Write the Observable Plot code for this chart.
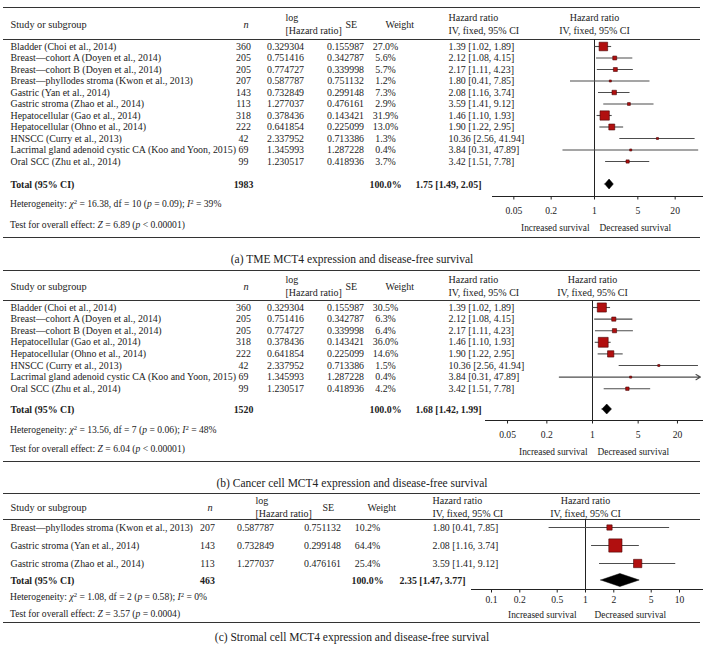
<!DOCTYPE html>
<html><head><meta charset="utf-8">
<script src="https://cdn.jsdelivr.net/npm/d3@7"></script>
<script src="https://cdn.jsdelivr.net/npm/@observablehq/plot@0.6"></script>
<style>
body{margin:0;background:#fff;}
#page{position:relative;width:704px;height:656px;font-family:"Liberation Serif",serif;color:#222;overflow:hidden;background:#fff}
.panel{position:absolute;left:0}
.note{position:absolute;left:10px;font-size:9.6px;white-space:nowrap;transform:translateY(-50%);line-height:1}
.note sup{font-size:0.7em;vertical-align:0.45em;line-height:0}
.cap{position:absolute;left:0;width:704px;text-align:center;font-size:11.5px;transform:translateY(-50%);line-height:1}
</style></head><body><div id="page"></div>
<script>
// ---------- Panel (a): TME MCT4 expression ----------
const studiesA = ["Bladder (Choi et al., 2014)", "Breast\u2014cohort A (Doyen et al., 2014)", "Breast\u2014cohort B (Doyen et al., 2014)", "Breast\u2014phyllodes stroma (Kwon et al., 2013)", "Gastric (Yan et al., 2014)", "Gastric stroma (Zhao et al., 2014)", "Hepatocellular (Gao et al., 2014)", "Hepatocellular (Ohno et al., 2014)", "HNSCC (Curry et al., 2013)", "Lacrimal gland adenoid cystic CA (Koo and Yoon, 2015)", "Oral SCC (Zhu et al., 2014)"];
const nA = [360, 205, 205, 207, 143, 113, 318, 222, 42, 69, 99];
const logHRA = [0.329304, 0.751416, 0.774727, 0.587787, 0.732849, 1.277037, 0.378436, 0.641854, 2.337952, 1.345993, 1.230517];
const seA = [0.155987, 0.342787, 0.339998, 0.751132, 0.299148, 0.476161, 0.143421, 0.225099, 0.713386, 1.287228, 0.418936];
const weightA = [27.0, 5.6, 5.7, 1.2, 7.3, 2.9, 31.9, 13.0, 1.3, 0.4, 3.7];
const hrA = [1.39, 2.12, 2.17, 1.80, 2.08, 3.59, 1.46, 1.90, 10.36, 3.84, 3.42];
const lowA = [1.02, 1.08, 1.11, 0.41, 1.16, 1.41, 1.10, 1.22, 2.56, 0.31, 1.51];
const highA = [1.89, 4.15, 4.23, 7.85, 3.74, 9.12, 1.93, 2.95, 41.94, 47.89, 7.78];
const totalA = {n: 1983, weight: 100.0, hr: 1.75, lo: 1.49, hi: 2.05};
const hetA = {chi2: "16.38", df: 10, p: "= 0.09", i2: 39};
const effectA = {z: "6.89", p: "< 0.00001"};
const ticksA = [0.05, 0.2, 1, 5, 20];
const captionA = "(a)  TME MCT4 expression and disease-free survival";

// ---------- Panel (b): Cancer cell MCT4 expression ----------
const studiesB = ["Bladder (Choi et al., 2014)", "Breast\u2014cohort A (Doyen et al., 2014)", "Breast\u2014cohort B (Doyen et al., 2014)", "Hepatocellular (Gao et al., 2014)", "Hepatocellular (Ohno et al., 2014)", "HNSCC (Curry et al., 2013)", "Lacrimal gland adenoid cystic CA (Koo and Yoon, 2015)", "Oral SCC (Zhu et al., 2014)"];
const nB = [360, 205, 205, 318, 222, 42, 69, 99];
const logHRB = [0.329304, 0.751416, 0.774727, 0.378436, 0.641854, 2.337952, 1.345993, 1.230517];
const seB = [0.155987, 0.342787, 0.339998, 0.143421, 0.225099, 0.713386, 1.287228, 0.418936];
const weightB = [30.5, 6.3, 6.4, 36.0, 14.6, 1.5, 0.4, 4.2];
const hrB = [1.39, 2.12, 2.17, 1.46, 1.90, 10.36, 3.84, 3.42];
const lowB = [1.02, 1.08, 1.11, 1.10, 1.22, 2.56, 0.31, 1.51];
const highB = [1.89, 4.15, 4.23, 1.93, 2.95, 41.94, 47.89, 7.78];
const totalB = {n: 1520, weight: 100.0, hr: 1.68, lo: 1.42, hi: 1.99};
const hetB = {chi2: "13.56", df: 7, p: "= 0.06", i2: 48};
const effectB = {z: "6.04", p: "< 0.00001"};
const ticksB = [0.05, 0.2, 1, 5, 20];
const captionB = "(b)  Cancer cell MCT4 expression and disease-free survival";

// ---------- Panel (c): Stromal cell MCT4 expression ----------
const studiesC = ["Breast\u2014phyllodes stroma (Kwon et al., 2013)", "Gastric stroma (Yan et al., 2014)", "Gastric stroma (Zhao et al., 2014)"];
const nC = [207, 143, 113];
const logHRC = [0.587787, 0.732849, 1.277037];
const seC = [0.751132, 0.299148, 0.476161];
const weightC = [10.2, 64.4, 25.4];
const hrC = [1.80, 2.08, 3.59];
const lowC = [0.41, 1.16, 1.41];
const highC = [7.85, 3.74, 9.12];
const totalC = {n: 463, weight: 100.0, hr: 2.35, lo: 1.47, hi: 3.77};
const hetC = {chi2: "1.08", df: 2, p: "= 0.58", i2: 0};
const effectC = {z: "3.57", p: "= 0.0004"};
const ticksC = [0.1, 0.2, 0.5, 1, 2, 5, 10];
const captionC = "(c)  Stromal cell MCT4 expression and disease-free survival";

// ---------- layout (pixels) ----------
const colsAB = {study: 10, n: 243, log: 285, se: 345, weight: 385, hr: 448};
const colsC = {study: 10, n: 207, log: 255, se: 322, weight: 367, hr: 432};
const layoutA = {svgTop: 0, height: 242, pitch: 11.5, firstRow: 46, topRule: 7, header: 23, headerRule: 39, total: 184, axis: 196, tickLabel: 210, incDec: 227, bottomRule: 237, xOne: 594, ppd: 62, axisX: [492, 703], cols: colsAB, incDx: 5, het: 204, test: 225, caption: 260, diamondH: 5, clip: Infinity};
const layoutB = {svgTop: 262, height: 204, pitch: 11.6, firstRow: 45, topRule: 8, header: 23, headerRule: 38, total: 147, axis: 158, tickLabel: 172, incDec: 189, bottomRule: 199, xOne: 592, ppd: 65.3, axisX: [485, 703], cols: colsAB, incDx: 5, het: 430, test: 449, caption: 484, diamondH: 5, clip: 45};
const layoutC = {svgTop: 486, height: 140, pitch: 18, firstRow: 41, topRule: 7, header: 20, headerRule: 33, total: 94, axis: 103, tickLabel: 113, incDec: 128, bottomRule: 136, xOne: 585, ppd: 94, axisX: [471, 703], cols: colsC, incDx: 9, het: 597, test: 614, caption: 638, diamondH: 6.5, clip: Infinity};

const page = document.getElementById("page");
const FONT = "Liberation Serif, serif";
const INK = "#222";

function buildPanel(P, L) {
  const rows = P.studies.map((s, i) => ({i, study: s, n: P.n[i], logHR: P.logHR[i], se: P.se[i], weight: P.weight[i], hr: P.hr[i], lo: P.lo[i], hi: P.hi[i]}));
  const u = px => (px - L.firstRow) / L.pitch;
  const C = L.cols;
  const fs = 9.9;
  const hfs = 10;
  const xmin = Math.pow(10, (L.axisX[0] - L.xOne) / L.ppd);
  const xmax = Math.pow(10, (L.axisX[1] - L.xOne) / L.ppd);
  const yT = u(L.total);
  const T = P.total;
  const dh = L.diamondH / L.pitch;
  const diamond = [{x: T.lo, y1: yT, y2: yT}, {x: T.hr, y1: yT - dh, y2: yT + dh}, {x: T.hi, y1: yT, y2: yT}];
  const plain = rows.filter(d => d.hi <= L.clip);
  const clipped = rows.filter(d => d.hi > L.clip);
  const ciText = d => `${d.hr.toFixed(2)} [${d.lo.toFixed(2)}, ${d.hi.toFixed(2)}]`;
  const col = (key, fmt, dx, anchor = "middle") => Plot.text(rows, {frameAnchor: "left", dx, y: "i", text: d => fmt(d[key]), textAnchor: anchor, fontSize: fs, fill: INK});
  const head = (txt, dx, extra = {}) => Plot.text([txt], {frameAnchor: "left", dx, y: u(L.header), text: d => d, fontSize: hfs, lineHeight: 1.3, fill: INK, ...extra});
  const tot = (txt, dx, anchor = "middle") => Plot.text([txt], {frameAnchor: "left", dx, y: yT, text: d => d, fontSize: fs, fontWeight: "bold", textAnchor: anchor, fill: INK});
  const plot = Plot.plot({
    width: 704, height: L.height, margin: 0,
    style: {fontFamily: FONT, background: "transparent", overflow: "visible"},
    x: {type: "log", domain: [xmin, xmax], range: L.axisX, axis: null},
    y: {domain: [u(0), u(L.height)], range: [0, L.height], axis: null},
    r: {type: "sqrt", domain: [1.5, 100], range: [1.15, 9.3], clamp: true},
    marks: [
      // horizontal table rules
      Plot.ruleY([u(L.topRule), u(L.headerRule), u(L.bottomRule)], {y: d => d, stroke: "#333", strokeWidth: 1.1, insetLeft: 3, insetRight: 4}),
      // header texts
      head("Study or subgroup", C.study, {textAnchor: "start", fontSize: 10.3}),
      head("n", C.n, {fontStyle: "italic", fontSize: 10.3}),
      head("log\n[Hazard ratio]", C.log),
      head("SE", C.se),
      head("Weight", C.weight),
      head("Hazard ratio\nIV, fixed, 95% CI", C.hr),
      Plot.text(["Hazard ratio\nIV, fixed, 95% CI"], {x: () => 1, y: u(L.header), text: d => d, fontSize: hfs, lineHeight: 1.3, fill: INK}),
      // study rows
      col("study", d => d, C.study, "start"),
      col("n", d => String(d), C.n),
      col("logHR", d => d.toFixed(6), C.log),
      col("se", d => d.toFixed(6), C.se),
      col("weight", d => d.toFixed(1) + "%", C.weight),
      Plot.text(rows, {frameAnchor: "left", dx: C.hr, y: "i", text: ciText, fontSize: fs, fill: INK}),
      // total row
      tot("Total (95% CI)", C.study, "start"),
      tot(String(T.n), C.n),
      tot(T.weight.toFixed(1) + "%", C.weight),
      tot(ciText(T), C.hr),
      // forest: null line, axis, ticks
      Plot.ruleX([1], {x: d => d, y1: u(L.headerRule), y2: u(L.axis), stroke: "#222", strokeWidth: 1}),
      Plot.ruleY([u(L.axis)], {y: d => d, x1: xmin, x2: xmax, stroke: "#222", strokeWidth: 1}),
      Plot.ruleX(P.ticks, {x: d => d, y1: u(L.axis), y2: u(L.axis + 3.5), stroke: "#222", strokeWidth: 1}),
      Plot.text(P.ticks, {x: d => d, y: u(L.tickLabel), text: d => String(d), fontSize: 9.6, fill: INK}),
      Plot.text(["Increased survival"], {x: () => 1, y: u(L.incDec), dx: -L.incDx, text: d => d, textAnchor: "end", fontSize: 9.4, fill: INK}),
      Plot.text(["Decreased survival"], {x: () => 1, y: u(L.incDec), dx: L.incDx, text: d => d, textAnchor: "start", fontSize: 9.4, fill: INK}),
      // confidence intervals
      Plot.ruleY(plain, {y: "i", x1: "lo", x2: "hi", stroke: "#4d4d4d", strokeWidth: 1.1}),
      Plot.arrow(clipped, {x1: "lo", x2: () => L.clip, y1: "i", y2: "i", stroke: "#4d4d4d", strokeWidth: 1.1, headLength: 7, bend: 0}),
      // study squares
      Plot.dot(rows, {x: "hr", y: "i", r: "weight", symbol: "square", fill: "#b10f0f", stroke: "#4a0505", strokeWidth: 0.6}),
      // pooled diamond
      Plot.areaY(diamond, {x: "x", y1: "y1", y2: "y2", fill: "#000", stroke: "#000", strokeWidth: 0.5})
    ]
  });
  plot.classList.add("panel");
  plot.style.top = L.svgTop + "px";
  page.appendChild(plot);

  const het = document.createElement("div");
  het.className = "note";
  het.style.top = L.het + "px";
  het.innerHTML = `Heterogeneity: <i>\u03C7</i><sup>2</sup> = ${P.het.chi2}, df = ${P.het.df} (<i>p</i> ${P.het.p}); <i>I</i><sup>2</sup> = ${P.het.i2}%`;
  page.appendChild(het);
  const eff = document.createElement("div");
  eff.className = "note";
  eff.style.top = L.test + "px";
  eff.innerHTML = `Test for overall effect: <i>Z</i> = ${P.effect.z} (<i>p</i> ${P.effect.p.replace("<", "&lt;")})`;
  page.appendChild(eff);
  const cap = document.createElement("div");
  cap.className = "cap";
  cap.style.top = L.caption + "px";
  cap.textContent = P.caption;
  page.appendChild(cap);
}

buildPanel({studies: studiesA, n: nA, logHR: logHRA, se: seA, weight: weightA, hr: hrA, lo: lowA, hi: highA, total: totalA, het: hetA, effect: effectA, ticks: ticksA, caption: captionA}, layoutA);
buildPanel({studies: studiesB, n: nB, logHR: logHRB, se: seB, weight: weightB, hr: hrB, lo: lowB, hi: highB, total: totalB, het: hetB, effect: effectB, ticks: ticksB, caption: captionB}, layoutB);
buildPanel({studies: studiesC, n: nC, logHR: logHRC, se: seC, weight: weightC, hr: hrC, lo: lowC, hi: highC, total: totalC, het: hetC, effect: effectC, ticks: ticksC, caption: captionC}, layoutC);
</script></body></html>
